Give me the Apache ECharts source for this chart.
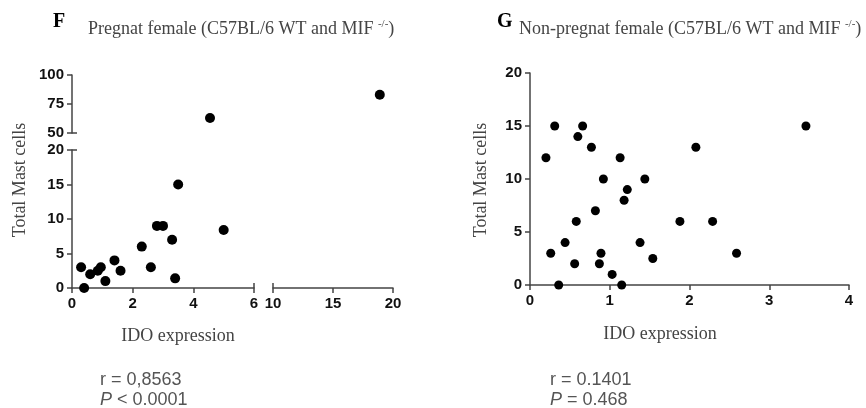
<!DOCTYPE html>
<html>
<head>
<meta charset="utf-8">
<script src="https://cdn.jsdelivr.net/npm/echarts@6/dist/echarts.min.js"></script>
<style>
  html, body { margin: 0; padding: 0; background: #fff; }
  #chart { width: 866px; height: 408px; }
</style>
</head>
<body>
<div id="chart"></div>
<script>
// panel F: pregnant females (broken axes)
const fX = [0.3, 0.4, 0.6, 0.85, 0.95, 1.1, 1.4, 1.6, 2.3, 2.6, 2.8, 3.0, 3.3, 3.4, 3.5, 5.0, 4.55, 18.9];
const fY = [3, 0, 2, 2.5, 3, 1, 4, 2.5, 6, 3, 9, 9, 7, 1.4, 15, 8.4, 63, 83];
// panel G: non-pregnant females
const gX = [0.2, 0.26, 0.31, 0.36, 0.44, 0.56, 0.58, 0.6, 0.66, 0.77, 0.82, 0.87, 0.89, 0.92,
            1.03, 1.13, 1.15, 1.18, 1.22, 1.38, 1.44, 1.54, 1.88, 2.08, 2.29, 2.59, 3.46];
const gY = [12, 3, 15, 0, 4, 2, 6, 14, 15, 13, 7, 2, 3, 10,
            1, 12, 0, 8, 9, 4, 10, 2.5, 6, 13, 6, 3, 15];

const fXTicksLeft = [0, 2, 4, 6];
const fXTicksRight = [10, 15, 20];
const fYTicksLow = [0, 5, 10, 15, 20];
const fYTicksHigh = [50, 75, 100];
const gXTicks = [0, 1, 2, 3, 4];
const gYTicks = [0, 5, 10, 15, 20];

const statsF = ['r = 0,8563', 'P', ' < 0.0001'];
const statsG = ['r = 0.1401', 'P', ' = 0.468'];

const SERIF = 'Liberation Serif';
const SANS = 'Liberation Sans';
const AXIS_COLOR = '#444';
const TEXT_GREY = '#444';

const chart = echarts.init(document.getElementById('chart'));

// split F points into the four pieces of the broken plot
function pick(xLo, xHi, yLo, yHi) {
  const out = [];
  fX.forEach((x, i) => {
    if (x >= xLo && x <= xHi && fY[i] >= yLo && fY[i] <= yHi) out.push([x, fY[i]]);
  });
  return out;
}

function valAxis(ticks, gridIndex, show, extra) {
  return Object.assign({
    type: 'value',
    gridIndex: gridIndex,
    min: ticks[0],
    max: ticks[ticks.length - 1],
    interval: ticks[1] - ticks[0],
    show: show,
    axisLine: { show: true, lineStyle: { color: AXIS_COLOR, width: 1.5 } },
    axisTick: { show: true, length: 5, lineStyle: { color: AXIS_COLOR, width: 1.5 } },
    splitLine: { show: false },
    axisLabel: { color: '#111', fontFamily: SANS, fontWeight: 'bold', fontSize: 15, margin: 8 }
  }, extra || {});
}

// extra axis that only draws an inward cap tick at the break ends
function capAxis(ticks, gridIndex, position, capValue) {
  return valAxis(ticks, gridIndex, true, {
    position: position,
    axisLine: { show: false },
    axisLabel: { show: false },
    axisTick: { show: true, inside: true, length: 5, customValues: [capValue],
                lineStyle: { color: AXIS_COLOR, width: 1.5 } }
  });
}

const lowRange = [fYTicksLow[0], fYTicksLow[fYTicksLow.length - 1]];
const highRange = [fYTicksHigh[0], fYTicksHigh[fYTicksHigh.length - 1]];
const leftRange = [fXTicksLeft[0], fXTicksLeft[fXTicksLeft.length - 1]];
const rightRange = [fXTicksRight[0], fXTicksRight[fXTicksRight.length - 1]];

const dot = { type: 'scatter', symbolSize: 10, itemStyle: { color: '#000', opacity: 1 }, silent: true };

const serifText = (extra) => Object.assign({ font: '18px ' + SERIF, fill: TEXT_GREY }, extra);
const supRich = { sup: { fontSize: 11, fontFamily: SERIF, fill: TEXT_GREY, verticalAlign: 'top', padding: [0, 0, 9, 0] } };
const italRich = { i: { fontStyle: 'italic', fontSize: 18, fontFamily: SANS, fill: '#555' } };

const option = {
  animation: false,
  grid: [
    { left: 72, top: 150, width: 182, height: 138 },   // F lower-left
    { left: 72, top: 75, width: 182, height: 58 },     // F upper-left
    { left: 273, top: 150, width: 120, height: 138 },  // F lower-right
    { left: 273, top: 75, width: 120, height: 58 },    // F upper-right
    { left: 530, top: 73, width: 319, height: 212 }    // G
  ],
  xAxis: [
    valAxis(fXTicksLeft, 0, true),
    valAxis(fXTicksLeft, 1, false),
    valAxis(fXTicksRight, 2, true),
    valAxis(fXTicksRight, 3, false),
    valAxis(gXTicks, 4, true),
    capAxis(fXTicksLeft, 0, 'bottom', leftRange[1]),
    capAxis(fXTicksRight, 2, 'bottom', rightRange[0])
  ],
  yAxis: [
    valAxis(fYTicksLow, 0, true),
    valAxis(fYTicksHigh, 1, true),
    valAxis(fYTicksLow, 2, false),
    valAxis(fYTicksHigh, 3, false),
    valAxis(gYTicks, 4, true),
    capAxis(fYTicksLow, 0, 'left', lowRange[1]),
    capAxis(fYTicksHigh, 1, 'left', highRange[0])
  ],
  series: [
    Object.assign({}, dot, { xAxisIndex: 0, yAxisIndex: 0, data: pick(leftRange[0], leftRange[1], lowRange[0], lowRange[1]) }),
    Object.assign({}, dot, { xAxisIndex: 1, yAxisIndex: 1, data: pick(leftRange[0], leftRange[1], highRange[0], highRange[1]) }),
    Object.assign({}, dot, { xAxisIndex: 2, yAxisIndex: 2, data: pick(rightRange[0], rightRange[1], lowRange[0], lowRange[1]) }),
    Object.assign({}, dot, { xAxisIndex: 3, yAxisIndex: 3, data: pick(rightRange[0], rightRange[1], highRange[0], highRange[1]) }),
    Object.assign({}, dot, { xAxisIndex: 4, yAxisIndex: 4, symbolSize: 9, data: gX.map((x, i) => [x, gY[i]]) })
  ],
  graphic: [
    // panel letters
    { type: 'text', left: 53, top: 12, style: { text: 'F', font: 'bold 20px ' + SERIF, fill: '#000' } },
    { type: 'text', left: 497, top: 12, style: { text: 'G', font: 'bold 20px ' + SERIF, fill: '#000' } },
    // titles
    { type: 'text', left: 88, top: 19, style: serifText({ text: 'Pregnat female (C57BL/6 WT and MIF {sup|-/-})', rich: supRich }) },
    { type: 'text', left: 519, top: 19, style: serifText({ text: 'Non-pregnat female (C57BL/6 WT and MIF {sup|-/-})', rich: supRich }) },
    // y-axis names
    { type: 'text', x: 20, y: 180, rotation: Math.PI / 2,
      style: serifText({ text: 'Total Mast cells', align: 'center', verticalAlign: 'middle' }) },
    { type: 'text', x: 481, y: 180, rotation: Math.PI / 2,
      style: serifText({ text: 'Total Mast cells', align: 'center', verticalAlign: 'middle' }) },
    // x-axis names
    { type: 'text', x: 178, y: 336, style: serifText({ text: 'IDO expression', align: 'center', verticalAlign: 'middle' }) },
    { type: 'text', x: 660, y: 334, style: serifText({ text: 'IDO expression', align: 'center', verticalAlign: 'middle' }) },
    // statistics
    { type: 'text', x: 100, y: 380, style: { text: statsF[0], font: '18px ' + SANS, fill: '#555', verticalAlign: 'middle' } },
    { type: 'text', x: 100, y: 400, style: {
        text: '{i|' + statsF[1] + '}' + statsF[2], font: '18px ' + SANS, fill: '#555', verticalAlign: 'middle', rich: italRich } },
    { type: 'text', x: 550, y: 380, style: { text: statsG[0], font: '18px ' + SANS, fill: '#555', verticalAlign: 'middle' } },
    { type: 'text', x: 550, y: 400, style: {
        text: '{i|' + statsG[1] + '}' + statsG[2], font: '18px ' + SANS, fill: '#555', verticalAlign: 'middle', rich: italRich } }
  ]
};

chart.setOption(option);
window.addEventListener('resize', () => chart.resize());
</script>
</body>
</html>
